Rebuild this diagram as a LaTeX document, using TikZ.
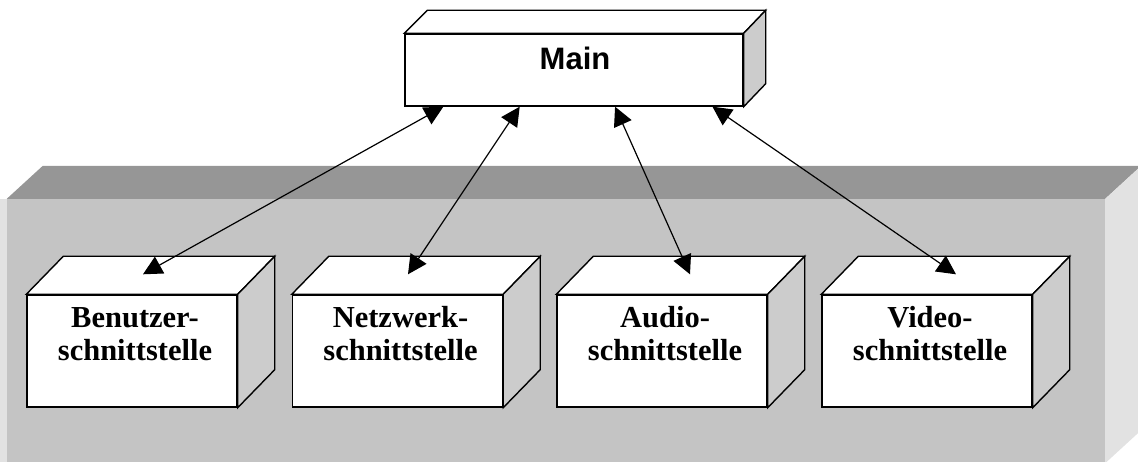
\documentclass[tikz,border=0pt]{standalone}
\usepackage{fontspec}
\setmainfont{Liberation Serif}
\setsansfont{Liberation Sans}
\usepackage{tikz}
\usetikzlibrary{arrows.meta,calc}
\definecolor{panelfront}{HTML}{C4C4C4}
\definecolor{paneltop}{HTML}{969696}
\definecolor{panelside}{HTML}{E2E2E2}
\definecolor{cubeside}{HTML}{CCCCCC}

\begin{document}
\begin{tikzpicture}[x=1pt,y=1pt,
  cube/.style={draw,fill=white,line width=1.4pt,inner sep=0pt,minimum width=210pt,minimum height=112pt},
  mainbox/.style={cube,minimum width=338pt,minimum height=72pt},
  face/.style={draw,line width=1.4pt},
  cubetext/.style={font=\bfseries\fontsize{30.5}{33}\selectfont,align=center,inner sep=0pt},
  maintext/.style={font=\sffamily\bfseries\fontsize{31}{36}\selectfont,inner sep=0pt},
  conn/.style={line width=1.2pt,{Triangle[length=19pt,width=19pt]}-{Triangle[length=19pt,width=19pt]}}]
\useasboundingbox (0,0) rectangle (1138,461);
% grey frame behind the interfaces
\fill[panelside] (0,-2) rectangle (7,262);
\node[fill=panelfront,inner sep=0pt,minimum width=1098pt,minimum height=264pt] (system) at (556,130) {};
\fill[paneltop] (system.north west) -- ++(36,33) -- ($(system.north east)+(36,33)$) -- (system.north east) -- cycle;
\fill[panelside] (system.north east) -- ++(36,33) -- ($(system.south east)+(36,33)$) -- (system.south east) -- cycle;

% main block
\node[mainbox] (main) at (574,391) {};
\draw[face,fill=white] (main.north west) -- ++(23,23) -- ($(main.north east)+(22,23)$) -- (main.north east) -- cycle;
\draw[face,fill=cubeside] (main.north east) -- ++(22,23) -- ($(main.south east)+(22,23)$) -- (main.south east) -- cycle;
\node[maintext] (main-label) at (575,403) {Main};

% the four interfaces
\foreach \n/\x/\t/\f/\o in {ben/132/Benutzer-/0.115/11, net/397.5/Netzwerk-/0.34/10.5, aud/662/Audio-/0.621/28, vid/927/Video-/0.908/29} {
  \node[cube] (\n) at (\x,110) {};
  \draw[face,fill=white] (\n.north west) -- ++(37,38) -- ($(\n.north east)+(37,38)$) -- (\n.north east) -- cycle;
  \draw[face,fill=cubeside] (\n.north east) -- ++(37,38) -- ($(\n.south east)+(37,38)$) -- (\n.south east) -- cycle;
  \node[cubetext] (\n-label) at ($(\n.center)+(3,17)$) {\t\\schnittstelle};
  \coordinate (\n-in) at ($(\n.north)+(\o,20)$);
  \coordinate (main-\n) at ($(main.south west)!\f!(main.south east)$);
}

% connections
\foreach \n in {ben,net,aud,vid}
  \draw[conn] (main-\n) -- (\n-in);
\end{tikzpicture}
\end{document}
